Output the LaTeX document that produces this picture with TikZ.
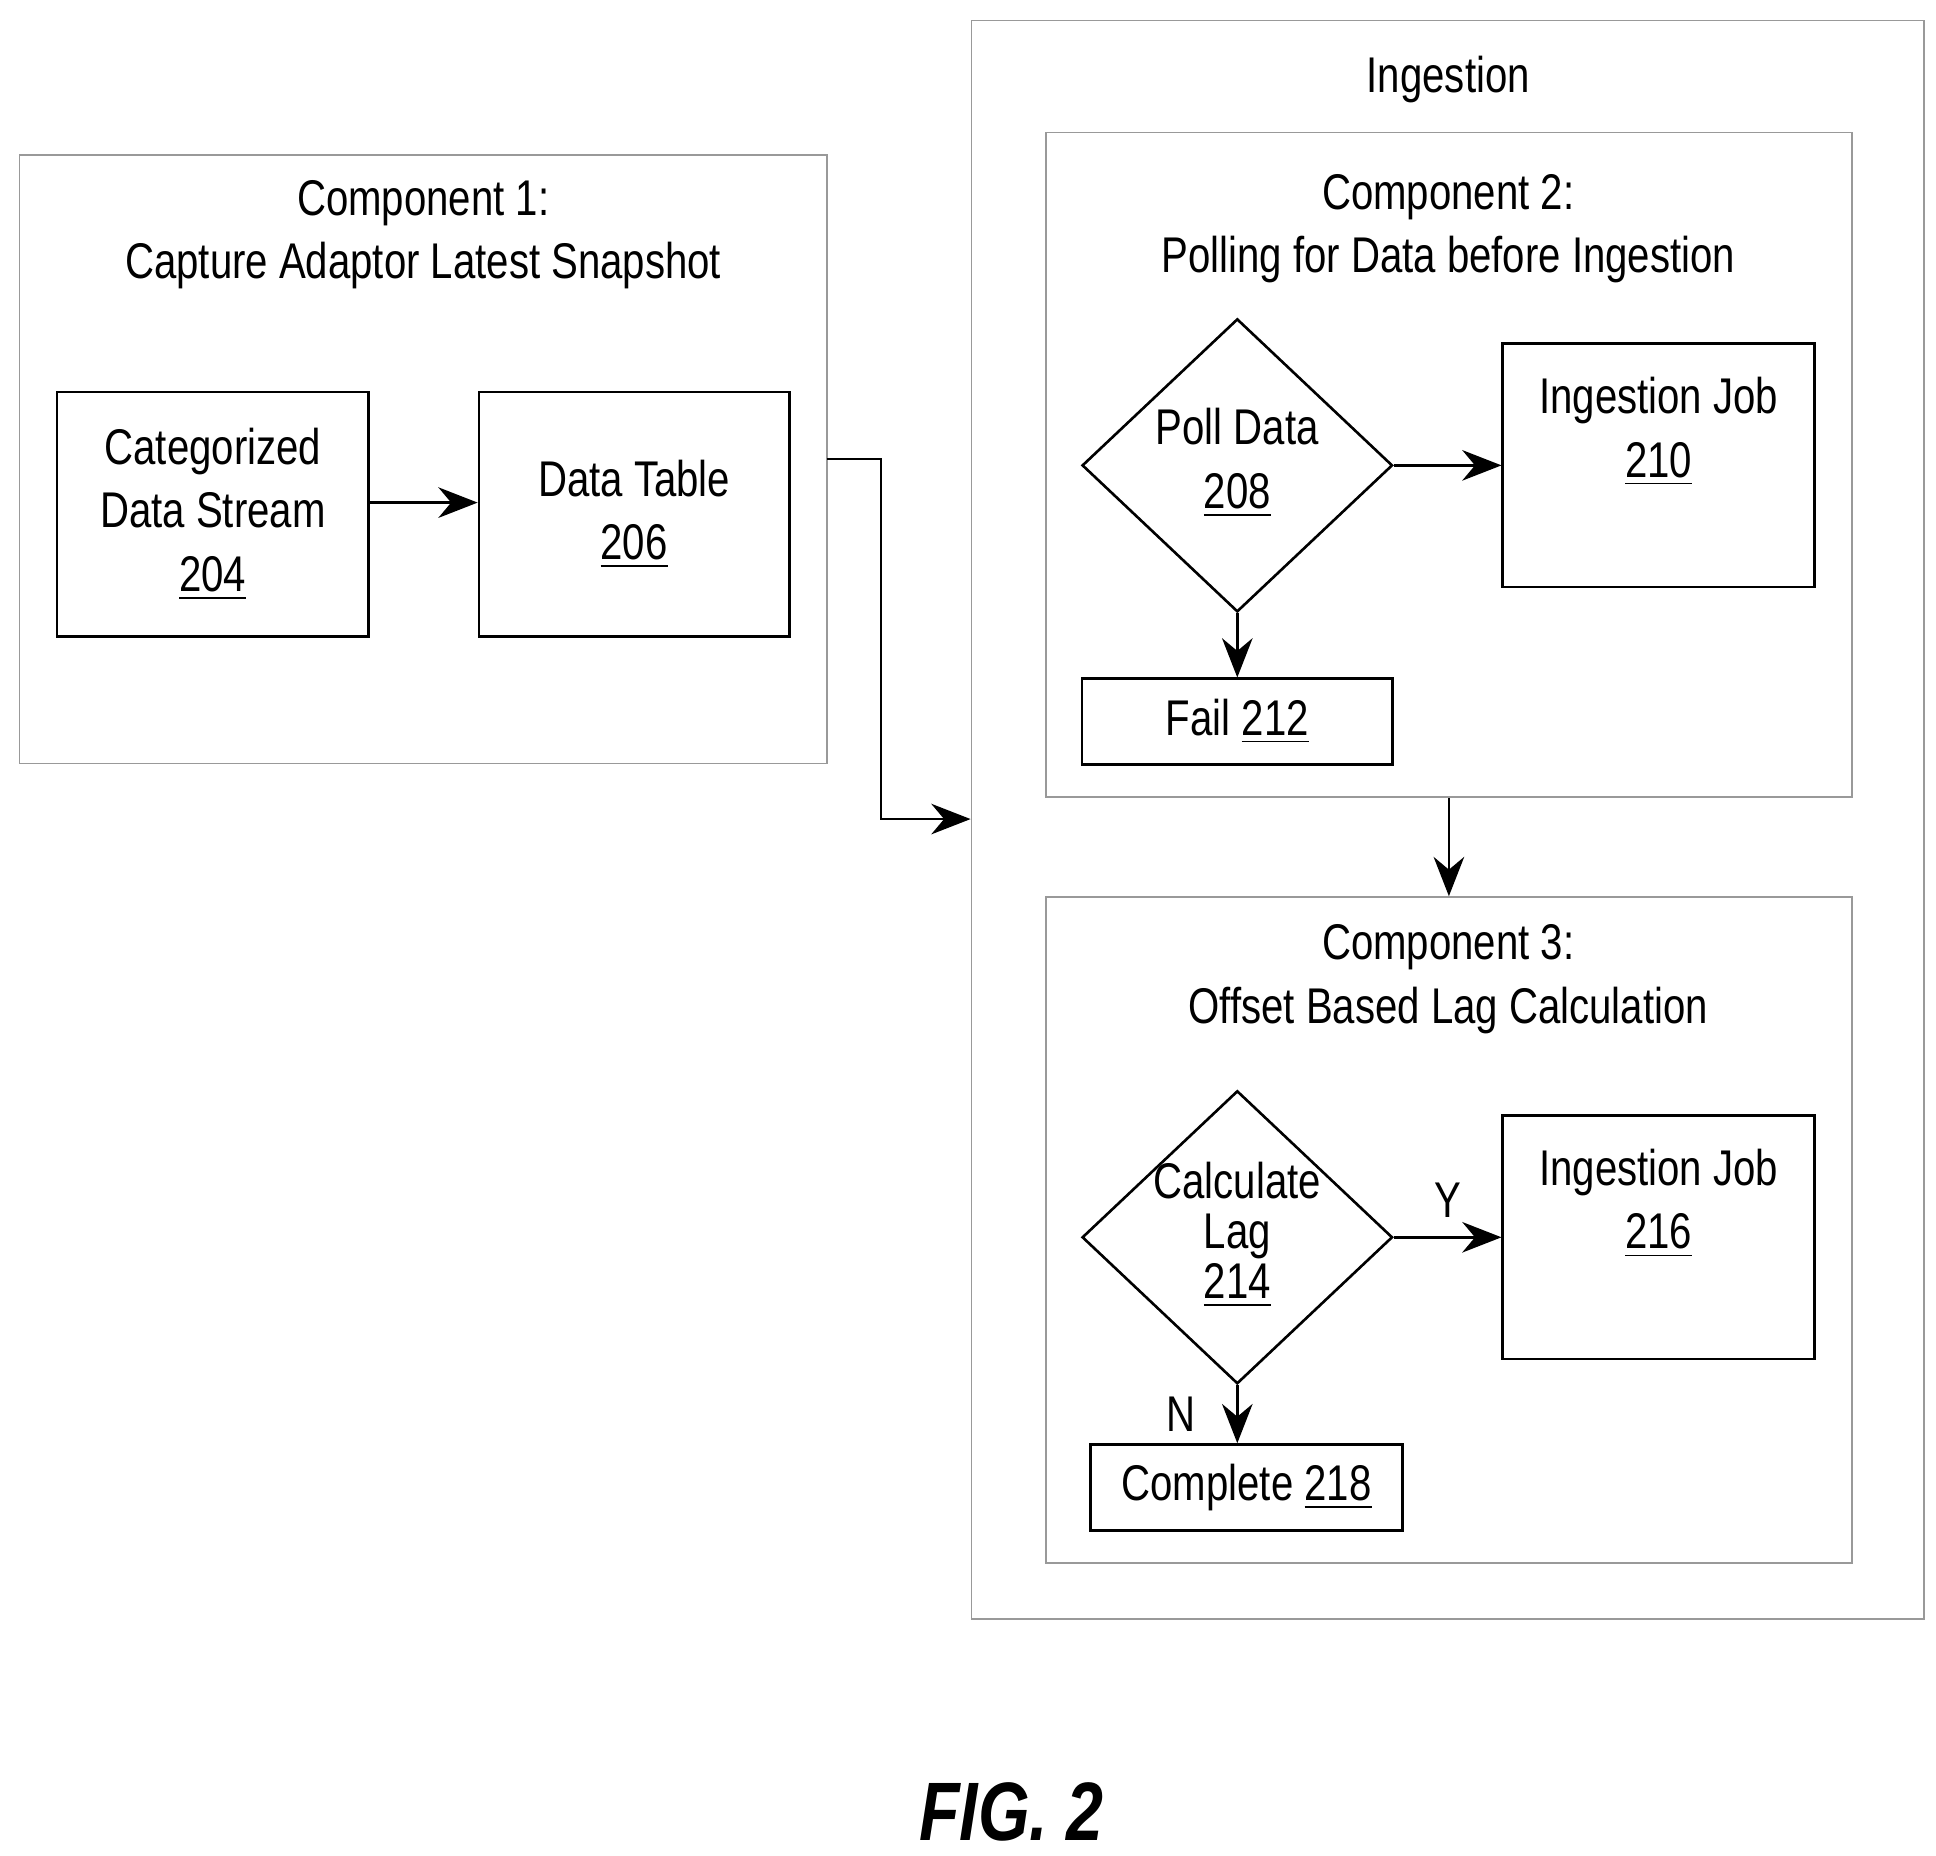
\documentclass[tikz,border=0pt]{standalone}
\usepackage{fontspec}
\setmainfont{Liberation Sans}[FakeStretch=0.8]
\usetikzlibrary{arrows.meta,shapes.geometric,positioning}
\tikzset{
  box/.style={draw,semithick,align=center,inner sep=0pt},
  frame/.style={draw,gray!80,thin},
  choice/.style={draw,semithick,diamond,aspect=1.06,inner sep=0pt,minimum width=2.5cm,minimum height=2.36cm},
  flow/.style={semithick,-{Stealth[length=9pt,width=7pt]}},
  txt/.style={font=\fontsize{11.5}{14.5}\selectfont}
}
\newcommand{\refn}[1]{\underline{#1}}
\begin{document}
\begin{tikzpicture}[x=0.01cm,y=-0.01cm,txt]
    \useasboundingbox (0,0) rectangle (1560,1495);

%component 1
    \node[frame,minimum width=6.5cm,minimum height=4.9cm] (comp1) at (341,370) {};
    \node[align=center] (comp1title) at (341,189) {Component 1:\\Capture Adaptor Latest Snapshot};
    \node[box,minimum width=2.51cm,minimum height=1.97cm] (stream) at (171.5,414.5) {Categorized\\Data Stream\\\refn{204}};
    \node[box,minimum width=2.5cm,minimum height=1.97cm] (table) at (511,414.5) {Data Table\\\refn{206}};
    \draw[flow] (stream.east |- 0,405) -- (table.west |- 0,405);

%ingestion
    \node[frame,minimum width=7.67cm,minimum height=12.87cm] (ingest) at (1166.5,660.5) {};
    \node (ingesttitle) at (1167,64) {Ingestion};
    \coordinate (bend1) at (710,370);
    \coordinate (bend2) at (710,660);
    \draw[flow] (666,370) -- (bend1) -- (bend2) -- (ingest.west |- bend2);

%component 2
    \node[frame,minimum width=6.49cm,minimum height=5.35cm] (comp2) at (1167.5,374.5) {};
    \node[align=center] (comp2title) at (1167,184) {Component 2:\\Polling for Data before Ingestion};
    \node[choice] (poll) at (997,375) {};
    \node[align=center] (polltext) at (997,373) {Poll Data\\\refn{208}};
    \node[box,minimum width=2.51cm,minimum height=1.96cm] (job1) at (1336.5,375) {Ingestion Job\\\refn{210}\\[3pt]};
    \node[box,minimum width=2.5cm,minimum height=0.69cm] (fail) at (997,581.5) {Fail \refn{212}};
    \draw[flow] (poll.east) -- (job1.west);
    \draw[flow] (poll.south) -- (fail.north);

%component 3
    \node[frame,minimum width=6.49cm,minimum height=5.36cm] (comp3) at (1167.5,991) {};
    \node[align=center] (comp3title) at (1167,789) {Component 3:\\Offset Based Lag Calculation};
    \draw[flow] (comp2.south) -- (comp3.north);
    \node[choice] (lag) at (997,997) {};
    \node[align=center,inner sep=0pt] (lagtext) at (997,995) {Calculate\\[-3pt]Lag\\[-3pt]\refn{214}};
    \node[box,minimum width=2.51cm,minimum height=1.96cm] (job2) at (1336.5,997) {Ingestion Job\\\refn{216}\\[3pt]};
    \node[box,minimum width=2.51cm,minimum height=0.69cm] (done) at (1004.5,1198.5) {Complete \refn{218}};
    \draw[flow] (lag.east) -- node[above=1pt,pos=0.5] {Y} (job2.west);
    \draw[flow] (lag.south) -- node[left=6pt,pos=0.5] {N} (lag.south |- done.north);

    \node[font=\fontsize{19}{23}\selectfont\bfseries\itshape] (fig) at (815,1460) {FIG. 2};
\end{tikzpicture}
\end{document}
